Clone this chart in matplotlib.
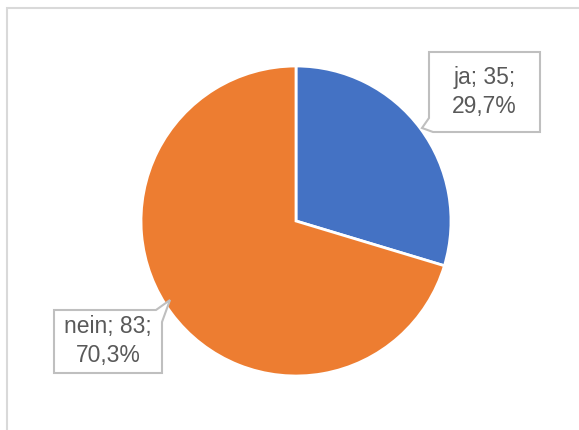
import matplotlib
matplotlib.use("Agg")
import matplotlib.pyplot as plt
from matplotlib.patches import Polygon, Rectangle

categories = ["ja", "nein"]
values = [35, 83]
colors = ["#4472C4", "#ED7D31"]

W, H = 579, 430
fig = plt.figure(figsize=(W / 100, H / 100), dpi=100)
ax = fig.add_axes([0, 0, 1, 1])
ax.set_xlim(0, W)
ax.set_ylim(0, H)
ax.set_aspect("equal")
ax.axis("off")

def Y(y):
    return H - y

# outer chart border (extends beyond image on right/bottom)
ax.add_patch(Rectangle((6.5, Y(440)), 600, 440 - 7.5, fill=False,
                       edgecolor="#D9D9D9", lw=1.5, clip_on=True))

ax.pie(values, colors=colors, startangle=90, counterclock=False,
       center=(296, Y(221)), radius=155,
       wedgeprops=dict(edgecolor="white", linewidth=2))
ax.set_xlim(0, W)
ax.set_ylim(0, H)

total = sum(values)
labels = [f"{c}; {v};\n{v / total * 100:.1f}%".replace(".", ",") for c, v in zip(categories, values)]

box_col = "#BFBFBF"
txt_col = "#595959"

# ja callout
ja_poly = [(429, 52), (540, 52), (540, 132), (433, 132), (422, 128), (429, 118)]
ax.add_patch(Polygon([(x, Y(y)) for x, y in ja_poly], closed=True,
                     facecolor="white", edgecolor=box_col, lw=1.5, zorder=5))
ax.text(484.5, Y(92), labels[0], ha="center", va="center", fontsize=16.5,
        color=txt_col, family="Liberation Sans", linespacing=1.3, zorder=6)

# nein callout
nein_poly = [(54, 310), (156, 310), (170, 300), (162, 322), (162, 373), (54, 373)]
ax.add_patch(Polygon([(x, Y(y)) for x, y in nein_poly], closed=True,
                     facecolor="white", edgecolor=box_col, lw=1.5, zorder=5))
ax.text(108, Y(341), labels[1], ha="center", va="center", fontsize=16.5,
        color=txt_col, family="Liberation Sans", linespacing=1.3, zorder=6)

fig.savefig("out.png", dpi=100)
